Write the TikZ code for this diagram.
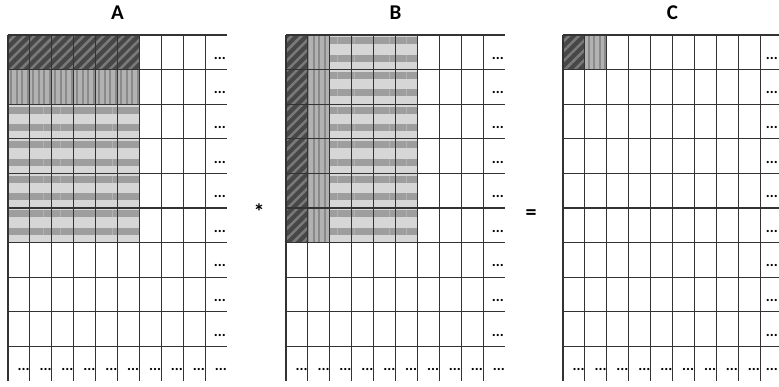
\documentclass[tikz,border=0pt]{standalone}
\usepackage{fontspec}
\setmainfont{Carlito}
\usetikzlibrary{patterns.meta}

\begin{document}
\begin{tikzpicture}[x=1pt,y=-1pt,
  gridline/.style={black!80, line width=1.1pt},
  diagcell/.style={preaction={fill=black!72}, pattern={Lines[angle=45,distance=7pt,line width=2.5pt]}, pattern color=black!52},
  vertcell/.style={preaction={fill=black!30}, pattern={Lines[angle=90,distance=5.5pt,line width=2pt]}, pattern color=black!46},
  horzcell/.style={preaction={fill=black!16}, pattern={Lines[angle=0,distance=17.3pt,line width=7pt]}, pattern color=black!38},
  dots/.style={font=\fontsize{15}{15}\selectfont\bfseries, inner sep=0pt, anchor=east},
  mattitle/.style={font=\fontsize{21}{21}\selectfont\bfseries},
  opsign/.style={font=\fontsize{22}{22}\selectfont\bfseries}]
  \clip (0,0) rectangle (779,387);
  \def\cw{21.9}
  \def\rh{34.6}

  % A: first row, second row, rest of the block
  \foreach \i in {0,...,5} {
    \fill[diagcell] (8+\i*\cw,35) rectangle ++(\cw,\rh);
    \fill[vertcell] (8+\i*\cw,35+\rh) rectangle ++(\cw,\rh);
    \fill[horzcell] (8+\i*\cw,35+2*\rh) rectangle ++(\cw,4*\rh);
  }
  % B: first column, second column, rest of the block
  \foreach \j in {0,...,5} {
    \fill[diagcell] (286,35+\j*\rh) rectangle ++(\cw,\rh);
    \fill[vertcell] (286+\cw,35+\j*\rh) rectangle ++(\cw,\rh);
  }
  \fill[horzcell] (286+2*\cw,35) rectangle ++(4*\cw,6*\rh);
  % C: the two filled cells
  \fill[diagcell] (563,35) rectangle ++(\cw,\rh);
  \fill[vertcell] (563+\cw,35) rectangle ++(\cw,\rh);

  % grids, titles and dots
  \foreach \ox/\name in {8/A,286/B,563/C} {
    \node[mattitle] (title\name) at (\ox+5*\cw,13) {\name};
    \foreach \i in {0,...,9}
      \draw[gridline] (\ox+\i*\cw,35) -- (\ox+\i*\cw,381);
    \foreach \j in {0,...,9}
      \draw[gridline] (\ox,35+\j*\rh) -- (\ox+10*\cw,35+\j*\rh);
    \foreach \j in {0,...,8}
      \node[dots] (\name-r\j) at ({min(\ox+10*\cw-1,778)},35+\j*\rh+\rh/2+6) {...};
    \foreach \i in {0,...,9}
      \node[dots] (\name-c\i) at ({min(\ox+\i*\cw+\cw,778)},35+9.5*\rh+6) {...};
  }

  \node[opsign] (times) at (259,212) {*};
  \node[opsign] (equals) at (531,215) {=};
\end{tikzpicture}
\end{document}
